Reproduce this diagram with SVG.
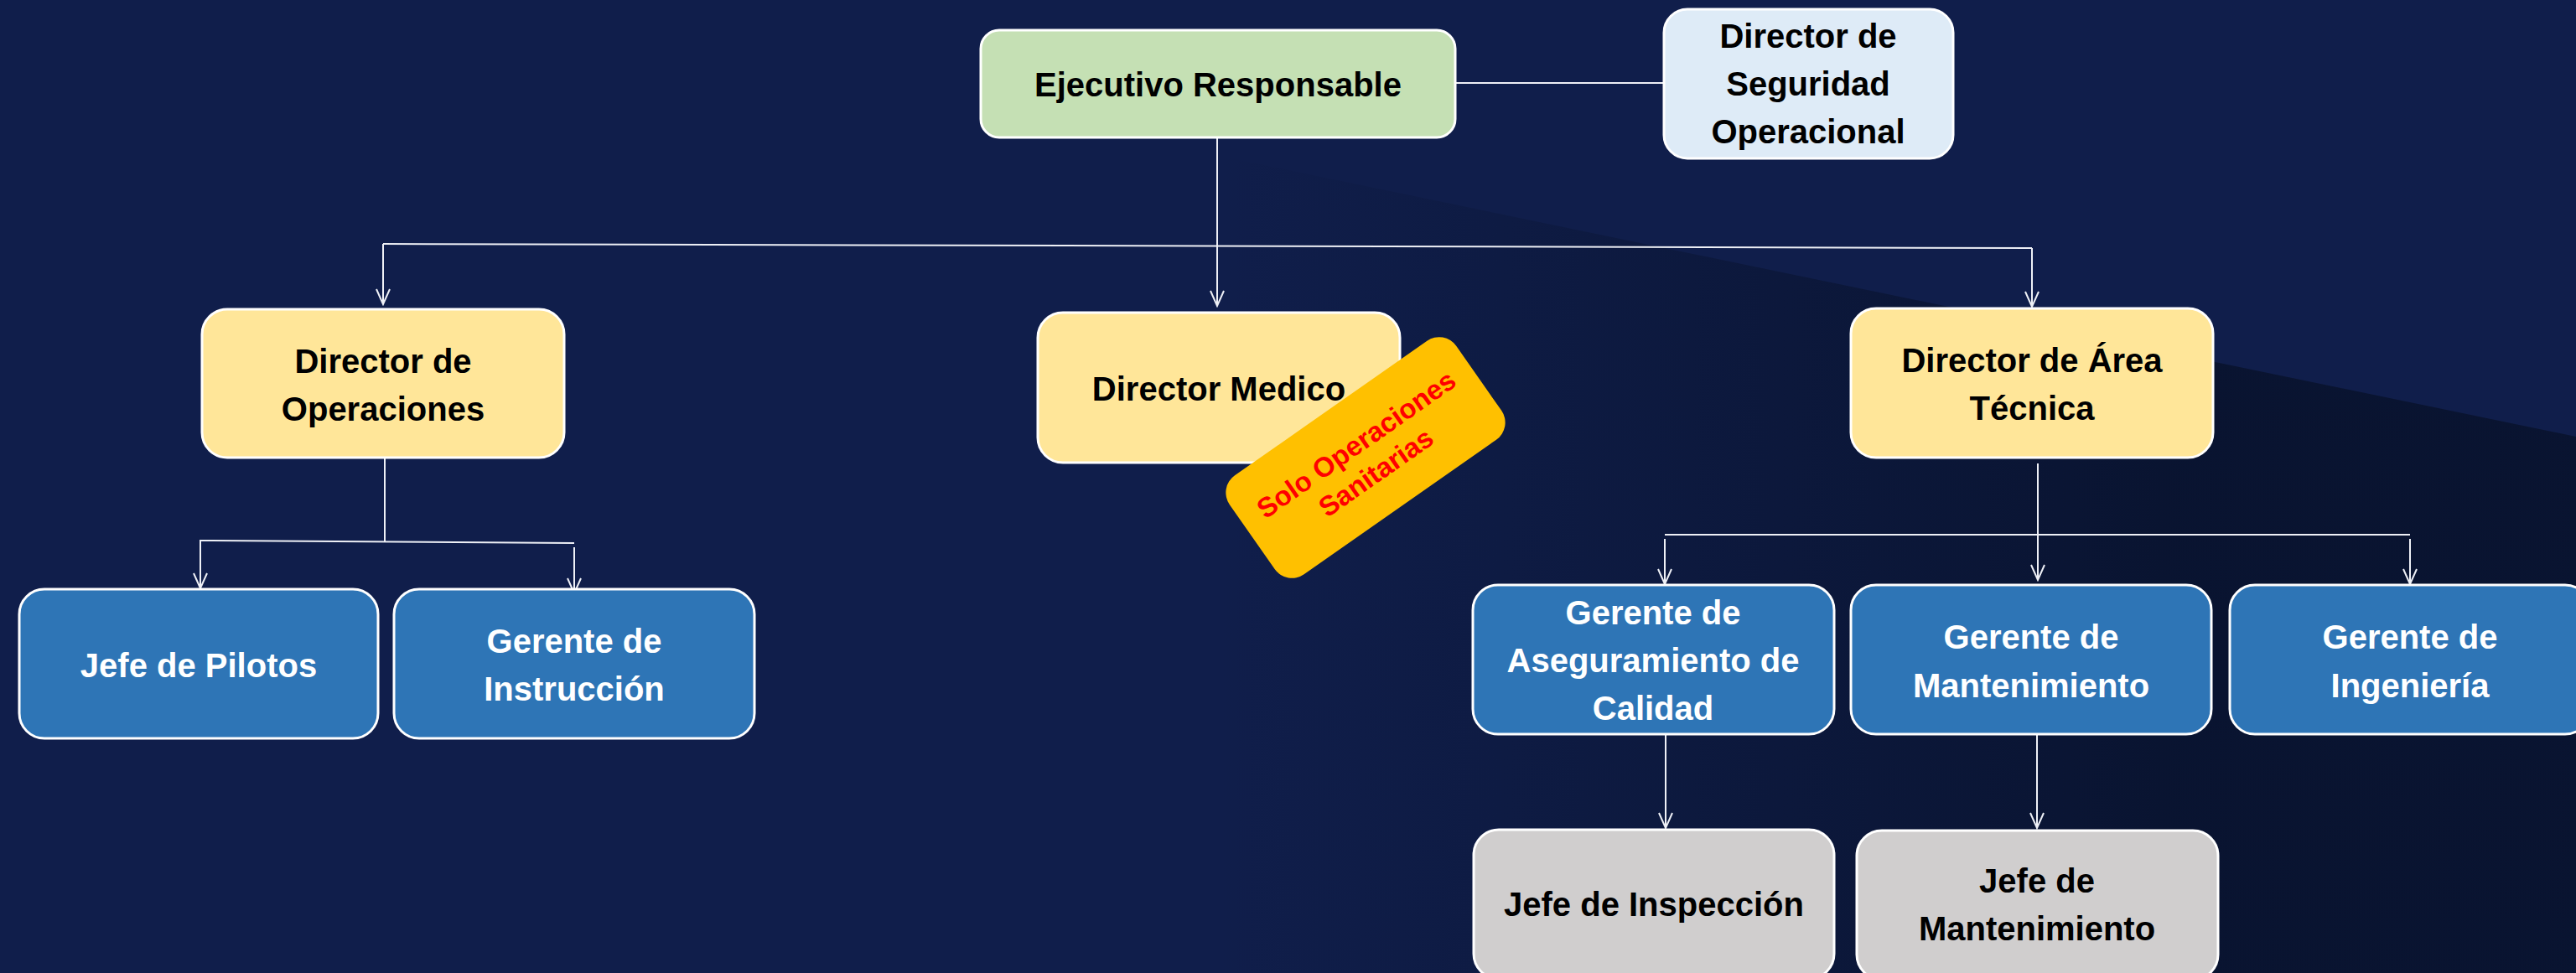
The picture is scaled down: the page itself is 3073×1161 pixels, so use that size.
<svg xmlns="http://www.w3.org/2000/svg" width="3073" height="1161" viewBox="0 0 3073 1161">
<style>
.box{stroke:#ffffff;stroke-width:3}
.green{fill:#c5e0b4}
.lblue{fill:#deebf7}
.yellow{fill:#ffe699}
.blue{fill:#2e75b6}
.gray{fill:#d0cece}
text{font-family:"Liberation Sans",Arial,sans-serif;font-weight:bold;font-size:40px;text-anchor:middle}
.dk{fill:#000000}
.wt{fill:#ffffff}
.conn{fill:none;stroke:#eef0f6;stroke-width:2}
.arr{marker-end:url(#arrow)}
.note{fill:#ff0000;font-size:33px}
</style>
<defs>
<marker id="arrow" markerUnits="userSpaceOnUse" viewBox="-20 -11 22 22" refX="0" refY="0" markerWidth="22" markerHeight="22" orient="auto">
<path d="M-18,-8 L0,0 L-18,8" fill="none" stroke="#eef0f6" stroke-width="2"/>
</marker>
<linearGradient id="shade" gradientUnits="userSpaceOnUse" x1="1450" y1="0" x2="2600" y2="0">
<stop offset="0" stop-color="#08122c" stop-opacity="0"/>
<stop offset="1" stop-color="#08122c" stop-opacity="0.85"/>
</linearGradient>
</defs>
<rect x="0" y="0" width="3073" height="1161" fill="#101e4b"/>
<polygon points="1450,185 3073,521 3073,1161 1450,1161" fill="url(#shade)"/>

<g id="connectors">
<path class="conn" d="M1736,99 H1985"/>
<path class="conn" d="M1452,164 V292"/>
<path class="conn" d="M457,291 L2424,296"/>
<path class="conn arr" d="M1452,292 V365"/>
<path class="conn arr" d="M457,291 V363"/>
<path class="conn arr" d="M2424,296 V366"/>
<path class="conn" d="M459,546 V646"/>
<path class="conn" d="M238,645 L685,648"/>
<path class="conn arr" d="M239,645 V702"/>
<path class="conn arr" d="M685,653 V708"/>
<path class="conn arr" d="M2431,553 V692"/>
<path class="conn" d="M1986,638 H2875"/>
<path class="conn arr" d="M1986,643 V697"/>
<path class="conn arr" d="M2875,643 V697"/>
<path class="conn arr" d="M1987,877 V988"/>
<path class="conn arr" d="M2430,877 V988"/>
</g>

<g id="ejecutivo">
<rect class="box green" x="1170" y="36" width="566" height="128" rx="22"/>
<text class="dk" x="1453" y="115">Ejecutivo Responsable</text>
</g>
<g id="director-seguridad">
<rect class="box lblue" x="1985" y="11" width="345" height="178" rx="28"/>
<text class="dk" x="2157" y="57">Director de</text>
<text class="dk" x="2157" y="114">Seguridad</text>
<text class="dk" x="2157" y="171">Operacional</text>
</g>
<g id="director-operaciones">
<rect class="box yellow" x="241" y="369" width="432" height="177" rx="30"/>
<text class="dk" x="457" y="445">Director de</text>
<text class="dk" x="457" y="502">Operaciones</text>
</g>
<g id="director-medico">
<rect class="box yellow" x="1238" y="373" width="432" height="179" rx="30"/>
<text class="dk" x="1454" y="478">Director Medico</text>
</g>
<g id="nota-sanitarias" transform="translate(1629,546) rotate(-35)">
<rect x="-165" y="-72" width="330" height="144" rx="25" fill="#ffc000"/>
<text class="note" x="0" y="-8">Solo Operaciones</text>
<text class="note" x="0" y="33">Sanitarias</text>
</g>
<g id="director-tecnica">
<rect class="box yellow" x="2208" y="368" width="432" height="178" rx="30"/>
<text class="dk" x="2424" y="444">Director de Área</text>
<text class="dk" x="2424" y="501">Técnica</text>
</g>
<g id="jefe-pilotos">
<rect class="box blue" x="23" y="703" width="428" height="178" rx="30"/>
<text class="wt" x="237" y="808">Jefe de Pilotos</text>
</g>
<g id="gerente-instruccion">
<rect class="box blue" x="470" y="703" width="430" height="178" rx="30"/>
<text class="wt" x="685" y="779">Gerente de</text>
<text class="wt" x="685" y="836">Instrucción</text>
</g>
<g id="gerente-calidad">
<rect class="box blue" x="1757" y="698" width="431" height="178" rx="30"/>
<text class="wt" x="1972" y="745">Gerente de</text>
<text class="wt" x="1972" y="802">Aseguramiento de</text>
<text class="wt" x="1972" y="859">Calidad</text>
</g>
<g id="gerente-mantenimiento">
<rect class="box blue" x="2208" y="698" width="430" height="178" rx="30"/>
<text class="wt" x="2423" y="774">Gerente de</text>
<text class="wt" x="2423" y="832">Mantenimiento</text>
</g>
<g id="gerente-ingenieria">
<rect class="box blue" x="2660" y="698" width="430" height="178" rx="30"/>
<text class="wt" x="2875" y="774">Gerente de</text>
<text class="wt" x="2875" y="832">Ingeniería</text>
</g>
<g id="jefe-inspeccion">
<rect class="box gray" x="1758" y="990" width="430" height="178" rx="30"/>
<text class="dk" x="1973" y="1093">Jefe de Inspección</text>
</g>
<g id="jefe-mantenimiento">
<rect class="box gray" x="2215" y="991" width="431" height="178" rx="30"/>
<text class="dk" x="2430" y="1065">Jefe de</text>
<text class="dk" x="2430" y="1122">Mantenimiento</text>
</g>
</svg>
